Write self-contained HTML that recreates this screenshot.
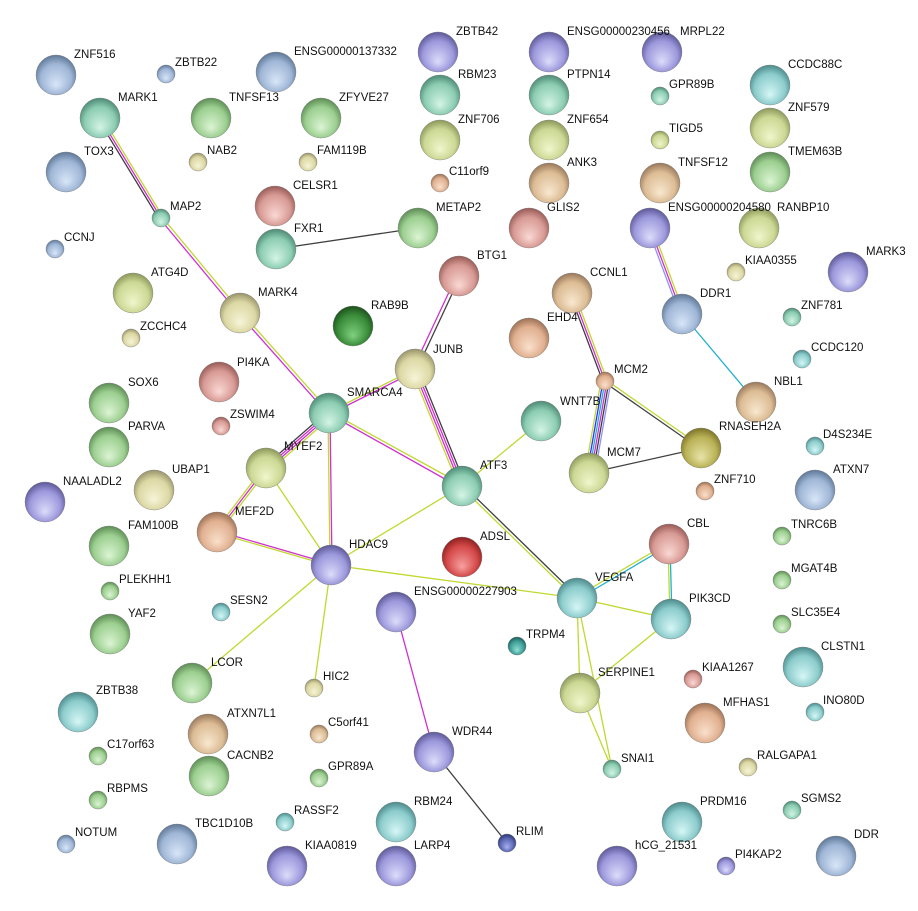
<!DOCTYPE html>
<html><head><meta charset="utf-8"><style>
html,body{margin:0;padding:0;background:#fff;}
svg{display:block;}
text{font-family:"Liberation Sans",sans-serif;font-size:11.5px;fill:#111;}
</style></head><body>
<svg width="918" height="911" viewBox="0 0 918 911" xmlns="http://www.w3.org/2000/svg">
<defs>
<radialGradient id="B" cx="50%" cy="55%" r="55%" fx="50%" fy="75%"><stop offset="0" stop-color="#d8e6f8"/><stop offset="0.7" stop-color="#9fb6d6"/><stop offset="1" stop-color="#5f7898"/></radialGradient>
<radialGradient id="P" cx="50%" cy="55%" r="55%" fx="50%" fy="75%"><stop offset="0" stop-color="#dcdcfa"/><stop offset="0.7" stop-color="#9c98dc"/><stop offset="1" stop-color="#5c5898"/></radialGradient>
<radialGradient id="T" cx="50%" cy="55%" r="55%" fx="50%" fy="75%"><stop offset="0" stop-color="#d4f4e6"/><stop offset="0.7" stop-color="#8ccdb2"/><stop offset="1" stop-color="#4c8a74"/></radialGradient>
<radialGradient id="G" cx="50%" cy="55%" r="55%" fx="50%" fy="75%"><stop offset="0" stop-color="#dcf4d4"/><stop offset="0.7" stop-color="#9ccf90"/><stop offset="1" stop-color="#5c8c54"/></radialGradient>
<radialGradient id="Y" cx="50%" cy="55%" r="55%" fx="50%" fy="75%"><stop offset="0" stop-color="#f0f6cc"/><stop offset="0.7" stop-color="#ccd894"/><stop offset="1" stop-color="#8c985a"/></radialGradient>
<radialGradient id="W" cx="50%" cy="55%" r="55%" fx="50%" fy="75%"><stop offset="0" stop-color="#f6f4d8"/><stop offset="0.7" stop-color="#dcd8a4"/><stop offset="1" stop-color="#98946a"/></radialGradient>
<radialGradient id="N" cx="50%" cy="55%" r="55%" fx="50%" fy="75%"><stop offset="0" stop-color="#f8e8d0"/><stop offset="0.7" stop-color="#dcbc94"/><stop offset="1" stop-color="#98785a"/></radialGradient>
<radialGradient id="S" cx="50%" cy="55%" r="55%" fx="50%" fy="75%"><stop offset="0" stop-color="#fad8d4"/><stop offset="0.7" stop-color="#d89a94"/><stop offset="1" stop-color="#985a56"/></radialGradient>
<radialGradient id="R" cx="50%" cy="55%" r="55%" fx="50%" fy="75%"><stop offset="0" stop-color="#f8a0a0"/><stop offset="0.7" stop-color="#d44848"/><stop offset="1" stop-color="#8c2020"/></radialGradient>
<radialGradient id="O" cx="50%" cy="55%" r="55%" fx="50%" fy="75%"><stop offset="0" stop-color="#fae0cc"/><stop offset="0.7" stop-color="#e0b090"/><stop offset="1" stop-color="#9c7054"/></radialGradient>
<radialGradient id="L" cx="50%" cy="55%" r="55%" fx="50%" fy="75%"><stop offset="0" stop-color="#e8e4a8"/><stop offset="0.7" stop-color="#bab256"/><stop offset="1" stop-color="#7c7428"/></radialGradient>
<radialGradient id="C" cx="50%" cy="55%" r="55%" fx="50%" fy="75%"><stop offset="0" stop-color="#d6f6f6"/><stop offset="0.7" stop-color="#8ccccc"/><stop offset="1" stop-color="#4c8a8c"/></radialGradient>
<radialGradient id="D" cx="50%" cy="55%" r="55%" fx="50%" fy="75%"><stop offset="0" stop-color="#80d080"/><stop offset="0.7" stop-color="#3a8c3a"/><stop offset="1" stop-color="#1c501c"/></radialGradient>
<radialGradient id="K" cx="50%" cy="55%" r="55%" fx="50%" fy="75%"><stop offset="0" stop-color="#90e0d8"/><stop offset="0.7" stop-color="#3c9c94"/><stop offset="1" stop-color="#1c5c58"/></radialGradient>
<radialGradient id="V" cx="50%" cy="55%" r="55%" fx="50%" fy="75%"><stop offset="0" stop-color="#a8b0f0"/><stop offset="0.7" stop-color="#5664b0"/><stop offset="1" stop-color="#2c3470"/></radialGradient>
</defs>

<g fill="none" stroke-linecap="round">
<line x1="98" y1="119" x2="159" y2="219" stroke="#404040" stroke-width="1.3"/>
<line x1="100" y1="118" x2="161" y2="218" stroke="#d030d0" stroke-width="1.3"/>
<line x1="102" y1="117" x2="163" y2="217" stroke="#c0d830" stroke-width="1.3"/>
<line x1="160" y1="219" x2="239" y2="314" stroke="#d030d0" stroke-width="1.3"/>
<line x1="162" y1="217" x2="241" y2="312" stroke="#c0d830" stroke-width="1.3"/>
<line x1="239" y1="314" x2="328" y2="414" stroke="#d030d0" stroke-width="1.3"/>
<line x1="241" y1="312" x2="330" y2="412" stroke="#c0d830" stroke-width="1.3"/>
<line x1="276" y1="249" x2="418" y2="228" stroke="#404040" stroke-width="1.3"/>
<line x1="457" y1="275" x2="413" y2="369" stroke="#d030d0" stroke-width="1.3"/>
<line x1="460" y1="277" x2="416" y2="371" stroke="#404040" stroke-width="1.3"/>
<line x1="412" y1="371" x2="459" y2="487" stroke="#c0d830" stroke-width="1.3"/>
<line x1="414" y1="370" x2="461" y2="486" stroke="#d030d0" stroke-width="1.3"/>
<line x1="416" y1="369" x2="463" y2="485" stroke="#d030d0" stroke-width="1.3"/>
<line x1="418" y1="368" x2="465" y2="484" stroke="#404040" stroke-width="1.3"/>
<line x1="415" y1="369" x2="329" y2="412" stroke="#c0d830" stroke-width="1.3"/>
<line x1="416" y1="371" x2="330" y2="414" stroke="#d030d0" stroke-width="1.3"/>
<line x1="329" y1="414" x2="461" y2="488" stroke="#d030d0" stroke-width="1.3"/>
<line x1="330" y1="412" x2="463" y2="485" stroke="#c0d830" stroke-width="1.3"/>
<line x1="328" y1="411" x2="265" y2="466" stroke="#404040" stroke-width="1.3"/>
<line x1="329" y1="413" x2="266" y2="468" stroke="#d030d0" stroke-width="1.3"/>
<line x1="330" y1="415" x2="267" y2="470" stroke="#d030d0" stroke-width="1.3"/>
<line x1="331" y1="417" x2="268" y2="472" stroke="#c0d830" stroke-width="1.3"/>
<line x1="328" y1="413" x2="330" y2="565" stroke="#c0d830" stroke-width="1.3"/>
<line x1="330" y1="413" x2="332" y2="565" stroke="#d030d0" stroke-width="1.3"/>
<line x1="264" y1="467" x2="215" y2="531" stroke="#c0d830" stroke-width="1.3"/>
<line x1="266" y1="468" x2="217" y2="532" stroke="#d030d0" stroke-width="1.3"/>
<line x1="268" y1="469" x2="219" y2="533" stroke="#c0d830" stroke-width="1.3"/>
<line x1="266" y1="468" x2="331" y2="565" stroke="#c0d830" stroke-width="1.3"/>
<line x1="217" y1="531" x2="331" y2="564" stroke="#d030d0" stroke-width="1.3"/>
<line x1="217" y1="533" x2="331" y2="566" stroke="#c0d830" stroke-width="1.3"/>
<line x1="331" y1="565" x2="462" y2="486" stroke="#c0d830" stroke-width="1.3"/>
<line x1="331" y1="565" x2="577" y2="598" stroke="#c0d830" stroke-width="1.3"/>
<line x1="331" y1="565" x2="192" y2="683" stroke="#c0d830" stroke-width="1.3"/>
<line x1="331" y1="565" x2="314" y2="688" stroke="#c0d830" stroke-width="1.3"/>
<line x1="462" y1="486" x2="541" y2="421" stroke="#c0d830" stroke-width="1.3"/>
<line x1="463" y1="485" x2="578" y2="597" stroke="#404040" stroke-width="1.3"/>
<line x1="461" y1="487" x2="576" y2="599" stroke="#c0d830" stroke-width="1.3"/>
<line x1="396" y1="612" x2="434" y2="752" stroke="#d030d0" stroke-width="1.3"/>
<line x1="434" y1="752" x2="507" y2="843" stroke="#404040" stroke-width="1.3"/>
<line x1="570" y1="294" x2="603" y2="382" stroke="#404040" stroke-width="1.3"/>
<line x1="572" y1="293" x2="605" y2="381" stroke="#d030d0" stroke-width="1.3"/>
<line x1="574" y1="292" x2="607" y2="380" stroke="#c0d830" stroke-width="1.3"/>
<line x1="601" y1="381" x2="585" y2="473" stroke="#c0d830" stroke-width="1.3"/>
<line x1="603" y1="381" x2="587" y2="473" stroke="#3030ff" stroke-width="1.3"/>
<line x1="605" y1="381" x2="589" y2="473" stroke="#20b0d0" stroke-width="1.3"/>
<line x1="607" y1="381" x2="591" y2="473" stroke="#d030d0" stroke-width="1.3"/>
<line x1="609" y1="381" x2="593" y2="473" stroke="#404040" stroke-width="1.3"/>
<line x1="611" y1="381" x2="595" y2="473" stroke="#9090ff" stroke-width="1.3"/>
<line x1="604" y1="382" x2="700" y2="449" stroke="#404040" stroke-width="1.3"/>
<line x1="606" y1="380" x2="702" y2="447" stroke="#c0d830" stroke-width="1.3"/>
<line x1="589" y1="473" x2="701" y2="448" stroke="#404040" stroke-width="1.3"/>
<line x1="648" y1="229" x2="680" y2="315" stroke="#9090ff" stroke-width="1.3"/>
<line x1="650" y1="228" x2="682" y2="314" stroke="#d030d0" stroke-width="1.3"/>
<line x1="652" y1="227" x2="684" y2="313" stroke="#c0d830" stroke-width="1.3"/>
<line x1="682" y1="314" x2="756" y2="402" stroke="#20b0d0" stroke-width="1.3"/>
<line x1="576" y1="597" x2="668" y2="543" stroke="#c0d830" stroke-width="1.3"/>
<line x1="578" y1="599" x2="670" y2="545" stroke="#20b0d0" stroke-width="1.3"/>
<line x1="668" y1="544" x2="670" y2="619" stroke="#c0d830" stroke-width="1.3"/>
<line x1="670" y1="544" x2="672" y2="619" stroke="#20b0d0" stroke-width="1.3"/>
<line x1="577" y1="598" x2="671" y2="619" stroke="#c0d830" stroke-width="1.3"/>
<line x1="577" y1="598" x2="580" y2="693" stroke="#c0d830" stroke-width="1.3"/>
<line x1="577" y1="598" x2="612" y2="769" stroke="#c0d830" stroke-width="1.3"/>
<line x1="671" y1="619" x2="580" y2="693" stroke="#c0d830" stroke-width="1.3"/>
<line x1="580" y1="693" x2="612" y2="769" stroke="#c0d830" stroke-width="1.3"/>
</g>

<g stroke="#777" stroke-width="0.4">
<circle cx="56" cy="75" r="20" fill="url(#B)"/><circle cx="276" cy="72" r="20" fill="url(#B)"/>
<circle cx="438" cy="52" r="20" fill="url(#P)"/><circle cx="549" cy="52" r="20" fill="url(#P)"/><circle cx="662" cy="52" r="20" fill="url(#P)"/>
<circle cx="100" cy="118" r="20" fill="url(#T)"/><circle cx="211" cy="118" r="20" fill="url(#G)"/><circle cx="321" cy="118" r="20" fill="url(#G)"/>
<circle cx="440" cy="95" r="20" fill="url(#T)"/><circle cx="549" cy="95" r="20" fill="url(#T)"/>
<circle cx="770" cy="85" r="20" fill="url(#C)"/><circle cx="770" cy="128" r="20" fill="url(#Y)"/>
<circle cx="440" cy="140" r="20" fill="url(#Y)"/><circle cx="549" cy="140" r="20" fill="url(#Y)"/>
<circle cx="770" cy="172" r="20" fill="url(#G)"/><circle cx="66" cy="172" r="20" fill="url(#B)"/>
<circle cx="549" cy="183" r="20" fill="url(#N)"/><circle cx="660" cy="183" r="20" fill="url(#N)"/>
<circle cx="275" cy="206" r="20" fill="url(#S)"/><circle cx="529" cy="228" r="20" fill="url(#S)"/>
<circle cx="650" cy="228" r="20" fill="url(#P)"/><circle cx="759" cy="228" r="20" fill="url(#Y)"/>
<circle cx="418" cy="228" r="20" fill="url(#G)"/><circle cx="276" cy="249" r="20" fill="url(#T)"/>
<circle cx="459" cy="276" r="20" fill="url(#S)"/><circle cx="848" cy="272" r="20" fill="url(#P)"/>
<circle cx="133" cy="293" r="20" fill="url(#Y)"/><circle cx="572" cy="293" r="20" fill="url(#N)"/>
<circle cx="682" cy="314" r="20" fill="url(#B)"/><circle cx="240" cy="313" r="20" fill="url(#W)"/>
<circle cx="353" cy="326" r="20" fill="url(#D)"/><circle cx="529" cy="338" r="20" fill="url(#O)"/>
<circle cx="415" cy="369" r="20" fill="url(#W)"/><circle cx="219" cy="382" r="20" fill="url(#S)"/>
<circle cx="329" cy="413" r="20" fill="url(#T)"/><circle cx="109" cy="403" r="20" fill="url(#G)"/>
<circle cx="756" cy="402" r="20" fill="url(#N)"/><circle cx="541" cy="421" r="20" fill="url(#T)"/>
<circle cx="109" cy="447" r="20" fill="url(#G)"/><circle cx="701" cy="448" r="20" fill="url(#L)"/>
<circle cx="589" cy="473" r="20" fill="url(#Y)"/><circle cx="266" cy="468" r="20" fill="url(#Y)"/>
<circle cx="462" cy="486" r="20" fill="url(#T)"/><circle cx="154" cy="490" r="20" fill="url(#W)"/>
<circle cx="45" cy="502" r="20" fill="url(#P)"/><circle cx="815" cy="490" r="20" fill="url(#B)"/>
<circle cx="217" cy="532" r="20" fill="url(#O)"/><circle cx="669" cy="544" r="20" fill="url(#S)"/>
<circle cx="109" cy="546" r="20" fill="url(#G)"/><circle cx="331" cy="565" r="20" fill="url(#P)"/>
<circle cx="462" cy="557" r="20" fill="url(#R)"/><circle cx="577" cy="598" r="20" fill="url(#C)"/>
<circle cx="396" cy="612" r="20" fill="url(#P)"/><circle cx="671" cy="619" r="20" fill="url(#C)"/>
<circle cx="110" cy="634" r="20" fill="url(#G)"/><circle cx="803" cy="667" r="20" fill="url(#C)"/>
<circle cx="192" cy="683" r="20" fill="url(#G)"/><circle cx="580" cy="693" r="20" fill="url(#Y)"/>
<circle cx="78" cy="712" r="20" fill="url(#C)"/><circle cx="705" cy="723" r="20" fill="url(#O)"/>
<circle cx="208" cy="734" r="20" fill="url(#N)"/><circle cx="434" cy="752" r="20" fill="url(#P)"/>
<circle cx="209" cy="776" r="20" fill="url(#G)"/><circle cx="396" cy="822" r="20" fill="url(#C)"/>
<circle cx="682" cy="822" r="20" fill="url(#C)"/><circle cx="177" cy="844" r="20" fill="url(#B)"/>
<circle cx="836" cy="856" r="20" fill="url(#B)"/><circle cx="617" cy="866" r="20" fill="url(#P)"/>
<circle cx="287" cy="866" r="20" fill="url(#P)"/><circle cx="396" cy="866" r="20" fill="url(#P)"/>
<circle cx="166" cy="74" r="9" fill="url(#B)"/><circle cx="660" cy="96" r="9" fill="url(#T)"/>
<circle cx="660" cy="140" r="9" fill="url(#Y)"/><circle cx="198" cy="162" r="9" fill="url(#W)"/>
<circle cx="308" cy="162" r="9" fill="url(#W)"/><circle cx="440" cy="183" r="9" fill="url(#O)"/>
<circle cx="161" cy="218" r="9" fill="url(#T)"/><circle cx="55" cy="249" r="9" fill="url(#B)"/>
<circle cx="736" cy="272" r="9" fill="url(#W)"/><circle cx="792" cy="317" r="9" fill="url(#T)"/>
<circle cx="131" cy="338" r="9" fill="url(#W)"/><circle cx="802" cy="359" r="9" fill="url(#C)"/>
<circle cx="605" cy="381" r="9" fill="url(#O)"/><circle cx="221" cy="426" r="9" fill="url(#S)"/>
<circle cx="815" cy="446" r="9" fill="url(#C)"/><circle cx="705" cy="491" r="9" fill="url(#O)"/>
<circle cx="782" cy="536" r="9" fill="url(#G)"/><circle cx="782" cy="580" r="9" fill="url(#G)"/>
<circle cx="110" cy="591" r="9" fill="url(#G)"/><circle cx="221" cy="612" r="9" fill="url(#C)"/>
<circle cx="782" cy="624" r="9" fill="url(#G)"/><circle cx="517" cy="646" r="9" fill="url(#K)"/>
<circle cx="693" cy="679" r="9" fill="url(#S)"/><circle cx="314" cy="688" r="9" fill="url(#W)"/>
<circle cx="815" cy="712" r="9" fill="url(#C)"/><circle cx="319" cy="734" r="9" fill="url(#N)"/>
<circle cx="98" cy="756" r="9" fill="url(#G)"/><circle cx="319" cy="778" r="9" fill="url(#G)"/>
<circle cx="612" cy="769" r="9" fill="url(#T)"/><circle cx="748" cy="767" r="9" fill="url(#W)"/>
<circle cx="98" cy="800" r="9" fill="url(#G)"/><circle cx="792" cy="810" r="9" fill="url(#T)"/>
<circle cx="285" cy="822" r="9" fill="url(#C)"/><circle cx="507" cy="843" r="9" fill="url(#V)"/>
<circle cx="66" cy="844" r="9" fill="url(#B)"/><circle cx="726" cy="866" r="9" fill="url(#P)"/>
</g>

<g>
<text x="74" y="58">ZNF516</text><text x="175" y="66">ZBTB22</text><text x="294" y="55">ENSG00000137332</text>
<text x="456" y="35">ZBTB42</text><text x="567" y="35">ENSG00000230456</text><text x="680" y="35">MRPL22</text>
<text x="118" y="101">MARK1</text><text x="229" y="101">TNFSF13</text><text x="339" y="101">ZFYVE27</text>
<text x="458" y="78">RBM23</text><text x="567" y="78">PTPN14</text><text x="669" y="88">GPR89B</text>
<text x="788" y="68">CCDC88C</text><text x="788" y="111">ZNF579</text>
<text x="458" y="123">ZNF706</text><text x="567" y="123">ZNF654</text><text x="669" y="132">TIGD5</text>
<text x="788" y="155">TMEM63B</text><text x="84" y="155">TOX3</text>
<text x="207" y="154">NAB2</text><text x="317" y="154">FAM119B</text><text x="449" y="175">C11orf9</text>
<text x="567" y="166">ANK3</text><text x="678" y="166">TNFSF12</text>
<text x="293" y="189">CELSR1</text><text x="170" y="210">MAP2</text>
<text x="547" y="211">GLIS2</text><text x="668" y="211">ENSG00000204580</text><text x="777" y="211">RANBP10</text>
<text x="436" y="211">METAP2</text><text x="294" y="232">FXR1</text><text x="64" y="241">CCNJ</text>
<text x="477" y="259">BTG1</text><text x="745" y="264">KIAA0355</text><text x="866" y="255">MARK3</text>
<text x="151" y="276">ATG4D</text><text x="590" y="276">CCNL1</text>
<text x="700" y="297">DDR1</text><text x="801" y="309">ZNF781</text>
<text x="258" y="296">MARK4</text><text x="371" y="309">RAB9B</text><text x="140" y="330">ZCCHC4</text>
<text x="547" y="321">EHD4</text><text x="433" y="353">JUNB</text><text x="811" y="351">CCDC120</text>
<text x="237" y="366">PI4KA</text><text x="614" y="373">MCM2</text>
<text x="347" y="396">SMARCA4</text><text x="128" y="386">SOX6</text>
<text x="774" y="385">NBL1</text><text x="230" y="418">ZSWIM4</text><text x="560" y="405">WNT7B</text>
<text x="128" y="430">PARVA</text><text x="719" y="430">RNASEH2A</text><text x="823" y="438">D4S234E</text>
<text x="607" y="456">MCM7</text><text x="284" y="450">MYEF2</text><text x="480" y="469">ATF3</text>
<text x="172" y="473">UBAP1</text><text x="63" y="485">NAALADL2</text><text x="714" y="483">ZNF710</text>
<text x="833" y="473">ATXN7</text><text x="235" y="515">MEF2D</text><text x="687" y="527">CBL</text>
<text x="791" y="528">TNRC6B</text><text x="128" y="529">FAM100B</text><text x="349" y="548">HDAC9</text>
<text x="480" y="540">ADSL</text><text x="595" y="581">VEGFA</text><text x="791" y="572">MGAT4B</text>
<text x="119" y="583">PLEKHH1</text><text x="414" y="595">ENSG00000227903</text><text x="689" y="602">PIK3CD</text>
<text x="230" y="604">SESN2</text><text x="791" y="616">SLC35E4</text><text x="128" y="617">YAF2</text>
<text x="526" y="638">TRPM4</text><text x="821" y="650">CLSTN1</text><text x="211" y="666">LCOR</text>
<text x="702" y="671">KIAA1267</text><text x="598" y="676">SERPINE1</text><text x="323" y="680">HIC2</text>
<text x="96" y="694">ZBTB38</text><text x="823" y="704">INO80D</text><text x="723" y="706">MFHAS1</text>
<text x="227" y="717">ATXN7L1</text><text x="328" y="726">C5orf41</text><text x="107" y="748">C17orf63</text>
<text x="452" y="735">WDR44</text><text x="227" y="759">CACNB2</text><text x="328" y="770">GPR89A</text>
<text x="621" y="762">SNAI1</text><text x="757" y="759">RALGAPA1</text><text x="107" y="792">RBPMS</text>
<text x="801" y="802">SGMS2</text><text x="294" y="814">RASSF2</text><text x="414" y="805">RBM24</text>
<text x="700" y="805">PRDM16</text><text x="195" y="827">TBC1D10B</text><text x="516" y="835">RLIM</text>
<text x="75" y="836">NOTUM</text><text x="854" y="838">DDR</text><text x="635" y="849">hCG_21531</text>
<text x="735" y="858">PI4KAP2</text><text x="305" y="849">KIAA0819</text><text x="414" y="849">LARP4</text>
</g>
</svg>
</body></html>
